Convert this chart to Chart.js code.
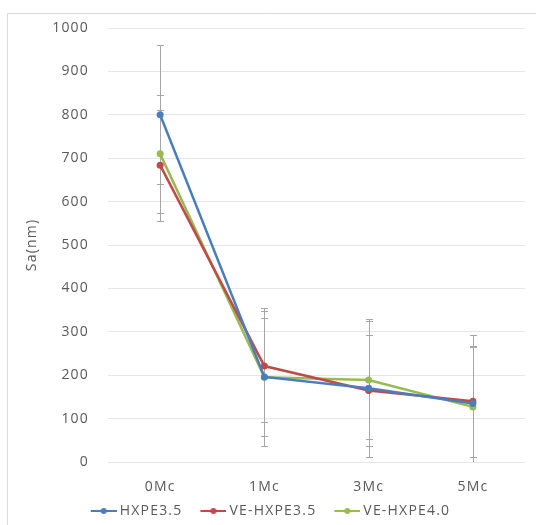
<!DOCTYPE html>
<html>
<head>
<meta charset="utf-8">
<script src="https://cdn.jsdelivr.net/npm/chart.js@4.4.0/dist/chart.umd.min.js"></script>
<style>
  html, body { margin: 0; padding: 0; background: #fff; }
  #wrap { width: 536px; height: 525px; }
</style>
</head>
<body>
<div id="wrap"><canvas id="chart" width="536" height="525"></canvas></div>
<script>
// data
const categories = ['0Mc', '1Mc', '3Mc', '5Mc'];
const seriesNames = ['HXPE3.5', 'VE-HXPE3.5', 'VE-HXPE4.0'];
const hxpe35 = [800, 196, 170, 135];
const hxpe35Err = [160, 158, 159, 158];
const veHxpe35 = [684, 221, 165, 140];
const veHxpe35Err = [128, 128, 128, 128];
const veHxpe40 = [710, 195, 189, 127];
const veHxpe40Err = [136, 136, 137, 137];
const yMin = 0;
const yMax = 1000;
const yStep = 100;

const colors = ['#4a7ebb', '#be4b48', '#98b954'];
const textColor = '#595959';
const fontFamily = "'Open Sans', 'Noto Sans', sans-serif";

// legend marker: short line with a dot, on the right part of a wider image
// (the empty left part gives the space between legend items)
function makeMarker(color) {
    const c = document.createElement('canvas');
    c.width = 38;
    c.height = 8;
    const g = c.getContext('2d');
    g.strokeStyle = color;
    g.lineWidth = 2;
    g.beginPath();
    g.moveTo(12, 4);
    g.lineTo(38, 4);
    g.stroke();
    g.fillStyle = color;
    g.beginPath();
    g.arc(25, 4, 3, 0, Math.PI * 2);
    g.fill();
    return c;
}
const markers = colors.map(makeMarker);

// spacing of text like the original
const letterSpacingPlugin = {
    id: 'letterSpacing',
    beforeLayout(chart) { chart.ctx.letterSpacing = '1.2px'; },
    beforeDraw(chart) { chart.ctx.letterSpacing = '1.2px'; }
};

// thin frame on the left and top
const framePlugin = {
    id: 'frame',
    beforeDraw(chart) {
        const ctx = chart.ctx;
        ctx.save();
        ctx.strokeStyle = '#d9d9d9';
        ctx.lineWidth = 1;
        ctx.beginPath();
        ctx.moveTo(7.5, chart.height);
        ctx.lineTo(7.5, 13.5);
        ctx.lineTo(chart.width, 13.5);
        ctx.stroke();
        ctx.restore();
    }
};

// error bars from dataset.errorBars
const errorBarPlugin = {
    id: 'errorBars',
    beforeDatasetsDraw(chart) {
        const { ctx, chartArea, scales: { x, y } } = chart;
        ctx.save();
        ctx.beginPath();
        ctx.rect(chartArea.left, chartArea.top - 1, chartArea.width, chartArea.height + 1);
        ctx.clip();
        ctx.strokeStyle = '#a6a6a6';
        ctx.lineWidth = 1;
        chart.data.datasets.forEach(ds => {
            ds.data.forEach((v, i) => {
                const e = ds.errorBars[i];
                const px = Math.round(x.getPixelForValue(i)) + 0.5;
                const top = Math.round(y.getPixelForValue(v + e)) + 0.5;
                const bot = Math.round(y.getPixelForValue(v - e)) + 0.5;
                ctx.beginPath();
                ctx.moveTo(px, top);
                ctx.lineTo(px, bot);
                ctx.moveTo(px - 3.5, top);
                ctx.lineTo(px + 3.5, top);
                ctx.moveTo(px - 3.5, bot);
                ctx.lineTo(px + 3.5, bot);
                ctx.stroke();
            });
        });
        ctx.restore();
    }
};

function makeDataset(label, data, errors, color) {
    return {
        label: label,
        data: data,
        errorBars: errors,
        borderColor: color,
        backgroundColor: color,
        borderWidth: 2.5,
        pointRadius: 3.5,
        pointBorderWidth: 0,
        pointBackgroundColor: color,
        tension: 0
    };
}

new Chart(document.getElementById('chart'), {
    type: 'line',
    data: {
        labels: categories,
        datasets: [
            makeDataset(seriesNames[0], hxpe35, hxpe35Err, colors[0]),
            makeDataset(seriesNames[1], veHxpe35, veHxpe35Err, colors[1]),
            makeDataset(seriesNames[2], veHxpe40, veHxpe40Err, colors[2])
        ]
    },
    options: {
        responsive: false,
        animation: false,
        devicePixelRatio: 1,
        layout: { padding: { left: 8, right: 11, top: 28, bottom: -3 } },
        plugins: {
            tooltip: { enabled: false },
            legend: {
                position: 'bottom',
                labels: {
                    usePointStyle: true,
                    pointStyleWidth: 30,
                    padding: 10,
                    color: textColor,
                    font: { family: fontFamily, size: 14 },
                    generateLabels(chart) {
                        const items = Chart.defaults.plugins.legend.labels.generateLabels(chart);
                        items.forEach((it, i) => { it.pointStyle = markers[i]; });
                        return items;
                    }
                }
            }
        },
        scales: {
            x: {
                offset: true,
                grid: { display: false },
                border: { display: false },
                ticks: { padding: 9, color: textColor, font: { family: fontFamily, size: 14 } },
                afterFit(scale) { scale.height = 32; }
            },
            y: {
                min: yMin,
                max: yMax,
                ticks: {
                    stepSize: yStep,
                    padding: 19,
                    color: textColor,
                    font: { family: fontFamily, size: 14 },
                    callback: v => String(v)
                },
                grid: { color: '#e6e6e6', drawTicks: false },
                border: { display: false },
                title: {
                    display: true,
                    text: 'Sa(nm)',
                    color: textColor,
                    font: { family: fontFamily, size: 14 },
                    padding: { top: 16, bottom: 0 }
                },
                afterFit(scale) { scale.width = 100; }
            }
        }
    },
    plugins: [letterSpacingPlugin, framePlugin, errorBarPlugin]
});
</script>
</body>
</html>
